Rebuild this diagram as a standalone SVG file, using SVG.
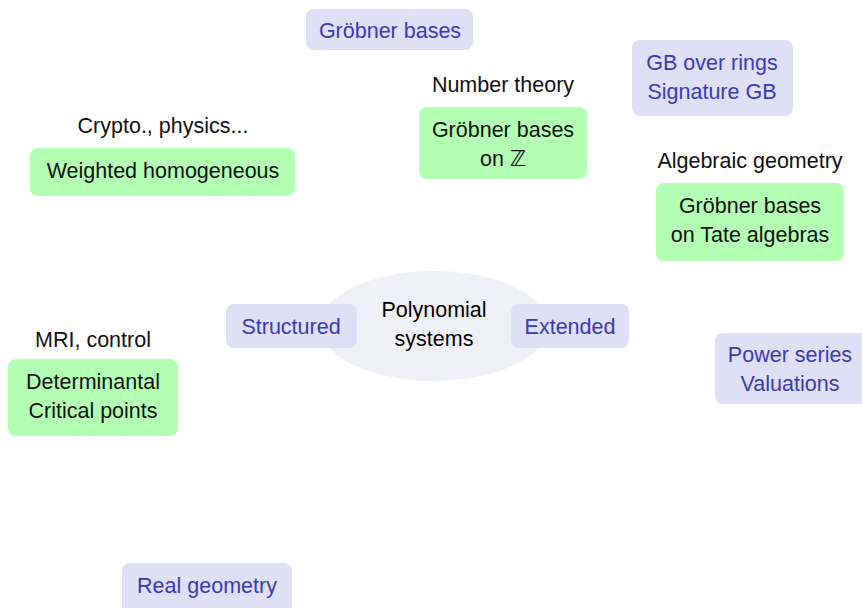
<svg xmlns="http://www.w3.org/2000/svg" width="862" height="608" viewBox="0 0 862 608">
<style>
text{font-family:"Liberation Sans","DejaVu Sans",sans-serif;font-size:21.5px;text-anchor:middle}
.b rect{fill:#dfdff5}
.b text{fill:#3b3bb5}
.g rect{fill:#b3ffb3}
.g text,.l{fill:#111}
</style>
<rect width="862" height="608" fill="#fff"/>
<g id="connectors"></g>
<g id="center"><ellipse cx="434" cy="326" rx="114" ry="55" fill="#f0f0f8"/><text x="434" y="317">Polynomial</text><text x="434" y="346">systems</text></g>
<g id="structured" class="b"><rect x="226" y="304" width="131" height="44" rx="8"/><text x="291" y="334">Structured</text></g>
<g id="extended" class="b"><rect x="511" y="304" width="118" height="44" rx="8"/><text x="570" y="334">Extended</text></g>
<g id="groebner" class="b"><rect x="306" y="9" width="167" height="41" rx="8"/><text x="390" y="38">Gröbner bases</text></g>
<g id="gbrings" class="b"><rect x="632" y="40" width="161" height="76" rx="8"/><text x="712" y="70">GB over rings</text><text x="712" y="99">Signature GB</text></g>
<g id="power" class="b"><rect x="715" y="333" width="160" height="71" rx="8"/><text x="790" y="362">Power series</text><text x="790" y="391">Valuations</text></g>
<g id="real" class="b"><rect x="122" y="563" width="170" height="60" rx="8"/><text x="207" y="593">Real geometry</text></g>
<g id="gbz" class="g"><text class="l" x="503" y="92">Number theory</text><rect x="419" y="107" width="168" height="72" rx="8"/><text x="503" y="137">Gröbner bases</text><text x="503" y="166">on ℤ</text></g>
<g id="weighted" class="g"><text class="l" x="163" y="133">Crypto., physics...</text><rect x="30" y="148" width="265" height="48" rx="8"/><text x="163" y="178">Weighted homogeneous</text></g>
<g id="tate" class="g"><text class="l" x="750" y="168">Algebraic geometry</text><rect x="656" y="183" width="188" height="78" rx="8"/><text x="750" y="213">Gröbner bases</text><text x="750" y="242">on Tate algebras</text></g>
<g id="determinantal" class="g"><text class="l" x="93" y="347">MRI, control</text><rect x="8" y="359" width="170" height="77" rx="8"/><text x="93" y="389">Determinantal</text><text x="93" y="418">Critical points</text></g>
</svg>
